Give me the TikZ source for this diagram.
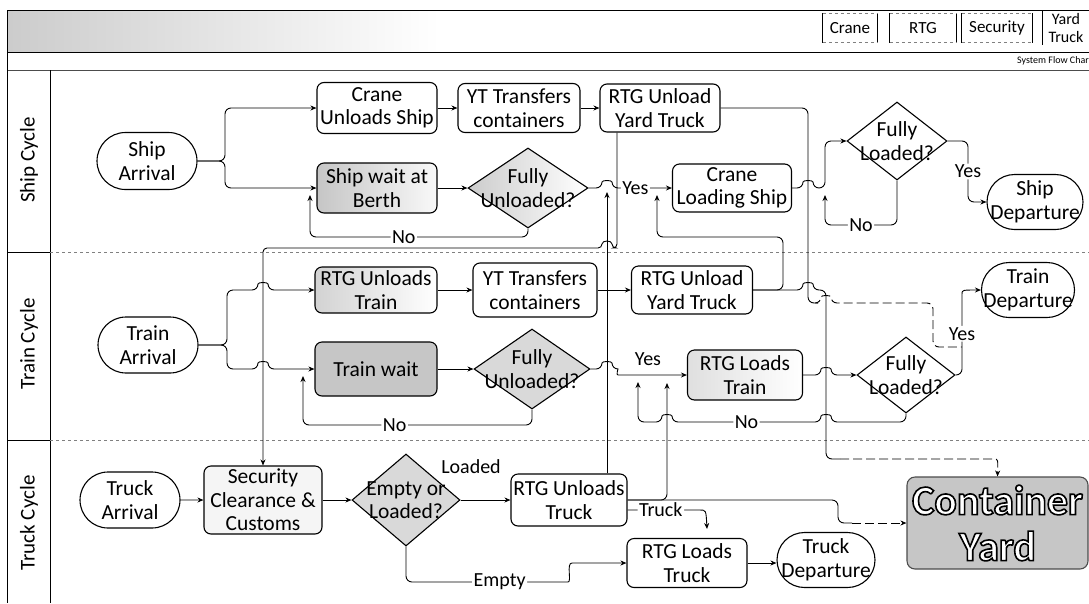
\documentclass[tikz,border=0pt]{standalone}
\usepackage{fontspec}
\setmainfont{Carlito}
\usetikzlibrary{arrows.meta,shapes.geometric,shapes.misc}
\newcommand\outlinedtext[1]{{\color{white}\special{pdf:literal direct 0 0 0 RG 2 Tr 1.6 w}#1\special{pdf:literal direct 0 Tr}}}
\begin{document}
\begin{tikzpicture}[x=1pt,y=-1pt,
  every node/.style={font=\fontsize{21.5}{23.5}\selectfont},
  box/.style={draw, line width=1.1pt, rounded corners=7pt, align=center, inner sep=1pt},
  term/.style={draw, line width=1.1pt, rounded rectangle, inner sep=0pt},
  dia/.style={draw, line width=1.1pt, diamond, inner sep=0pt},
  con/.style={line width=0.9pt, rounded corners=6pt},
  arr/.style={con, -{Stealth[length=6pt,width=5pt]}},
  lbl/.style={fill=white, inner sep=1.5pt, font=\fontsize{20}{22}\selectfont},
  freelbl/.style={inner sep=1pt, font=\fontsize{20}{22}\selectfont},
  lane/.style={rotate=90, font=\fontsize{21}{23}\selectfont},
  leg/.style={inner sep=2pt, font=\fontsize{17}{18}\selectfont, align=center},
  faint/.style={dash pattern=on 9pt off 4pt},
  frame/.style={line width=0.8pt},
]
\useasboundingbox (0,0) rectangle (1089,603);

% ---------- header and frame ----------
\fill[left color=gray!40, right color=white] (8,11) rectangle (440,51);
\draw[frame] (7,10) -- (1089,10);
\draw[line width=1pt] (7,52) -- (1089,52);
\draw[line width=0.8pt, black!70] (7,70) -- (1089,70);
\draw[frame] (7,10) -- (7,603);
\draw[frame] (50,70) -- (50,603);
\draw[frame] (7,252) -- (50,252);
\draw[frame] (7,440) -- (50,440);
\draw[gray, dashed, line width=0.6pt] (50,252) -- (1089,252);
\draw[gray, dashed, line width=0.6pt] (50,440) -- (1089,440);

\node[lane] (lship) at (29,160) {Ship Cycle};
\node[lane] (ltrain) at (29,344) {Train Cycle};
\node[lane] (ltruck) at (29,523) {Truck Cycle};

% legend
\node[leg, minimum width=54pt, minimum height=29pt] (lgc) at (850,28) {Crane};
\node[leg, minimum width=66pt, minimum height=29pt] (lgr) at (923,28) {RTG};
\node[leg, minimum width=70pt, minimum height=29pt] (lgs) at (997,28) {Security};
\node[leg, minimum width=46pt, minimum height=34pt, font=\fontsize{16}{18}\selectfont] (lgy) at (1066,28) {Yard\\Truck};
\foreach \n in {lgc,lgr,lgs}{
  \draw[line width=0.7pt] (\n.north west) -- (\n.south west) (\n.north east) -- (\n.south east);
  \draw[gray, dashed, line width=0.5pt] (\n.north west) -- (\n.north east) (\n.south west) -- (\n.south east);
}
\draw[line width=0.7pt] (lgy.north west) -- (lgy.south west);
\node[anchor=east, font=\fontsize{10}{11}\selectfont, inner sep=0pt] (sfc) at (1089,61) {System Flow Char};

% ---------- ship cycle ----------
\node[term, minimum width=100pt, minimum height=57pt, label={[align=center]center:Ship\\Arrival}] (sa) at (147,161) {};
\node[box, minimum width=120pt, minimum height=51pt] (cus) at (377,108) {Crane\\Unloads Ship};
\node[box, minimum width=122pt, minimum height=49pt] (yt1) at (519,108) {YT Transfers\\containers};
\node[box, minimum width=120pt, minimum height=48pt] (rtg1) at (660,108) {RTG Unload\\Yard Truck};
\node[box, left color=gray!45, right color=gray!5, minimum width=120pt, minimum height=50pt] (swb) at (377,188) {Ship wait at\\Berth};
\node[dia, left color=gray!40, right color=white, minimum width=120pt, minimum height=80pt,
      label={[align=center]center:Fully\\Unloaded?}] (fu1) at (528,188) {};
\node[box, minimum width=119pt, minimum height=48pt] (cls) at (732,188) {Crane\\Loading Ship};
\node[dia, minimum width=100pt, minimum height=78pt,
      label={[align=center]center:Fully\\Loaded?}] (fl1) at (897,141) {};
\node[term, minimum width=96pt, minimum height=55pt, label={[align=center]center:Ship\\Departure}] (sd) at (1035,202) {};

% ---------- train cycle ----------
\node[term, minimum width=100pt, minimum height=56pt, label={[align=center]center:Train\\Arrival}] (ta) at (148,345) {};
\node[box, left color=gray!35, right color=white, minimum width=122pt, minimum height=46pt] (rut) at (376,290) {RTG Unloads\\Train};
\node[box, minimum width=124pt, minimum height=54pt] (yt2) at (535,290) {YT Transfers\\containers};
\node[box, minimum width=121pt, minimum height=48pt] (rtg2) at (692,290) {RTG Unload\\Yard Truck};
\node[box, fill=gray!45, minimum width=122pt, minimum height=54pt] (tw) at (376,369) {Train wait};
\node[dia, fill=gray!30, minimum width=116pt, minimum height=80pt,
      label={[align=center]center:Fully\\Unloaded?}] (fu2) at (532,369) {};
\node[box, left color=gray!25, right color=white, minimum width=115pt, minimum height=50pt] (rlt) at (745,375) {RTG Loads\\Train};
\node[dia, minimum width=98pt, minimum height=76pt,
      label={[align=center]center:Fully\\Loaded?}] (fl2) at (906,375) {};
\node[term, minimum width=93pt, minimum height=55pt, label={[align=center]center:Train\\Departure}] (td) at (1028,290) {};

% ---------- truck cycle ----------
\node[term, minimum width=100pt, minimum height=56pt, label={[align=center]center:Truck\\Arrival}] (tra) at (130,500) {};
\node[box, fill=gray!8, minimum width=118pt, minimum height=68pt] (scc) at (263,500) {Security\\Clearance \&\\Customs};
\node[dia, fill=gray!30, minimum width=108pt, minimum height=92pt,
      label={[align=center]center:Empty or\\Loaded?}] (eol) at (406,500) {};
\node[box, minimum width=116pt, minimum height=52pt] (rut2) at (569,500) {RTG Unloads\\Truck};
\node[box, minimum width=120pt, minimum height=49pt] (rlt2) at (687,563) {RTG Loads\\Truck};
\node[term, minimum width=98pt, minimum height=55pt, label={[align=center]center:Truck\\Departure}] (tdp) at (826,560) {};
\node[box, draw=gray!60!black, fill=gray!45, minimum width=181pt, minimum height=92pt, rounded corners=8pt,
      inner sep=0pt, font=\fontsize{42}{46}\selectfont\bfseries] (cy) at (997.5,523)
      {\outlinedtext{Container}\\\outlinedtext{Yard}};

% ---------- ship connectors ----------
\coordinate (sbr) at (225,161);
\draw[arr] (sa.east) -- (sbr) |- (cus.west);
\draw[arr] (sa.east) -- (sbr) |- (swb.west);
\draw[arr] (cus) -- (yt1);
\draw[arr] (yt1) -- (rtg1);
\draw[arr] (swb) -- (fu1);
\coordinate (fu1no) at (310,195);
\draw[arr] (fu1.south) -- (528,237) -- node[lbl,pos=0.57]{No} (310,237) -- (fu1no);
\draw[arr] (fu1.east) -- (602,188) .. controls +(0,-8) and +(0,-8) .. (612,188) -- node[lbl,pos=0.39]{Yes} (cls.west);
\coordinate (t2c) at (607,192);
\draw[arr] (607,0 |- rut2.north) -- (t2c);
\draw[arr, rounded corners=4pt] (617,0 |- rtg1.south) -- (617,248) -- (612,248) .. controls +(0,-8) and +(0,-8) .. (602,248) -- (263,248) -- (scc.north);
\coordinate (s2a) at (818,303);
\draw[con] (rtg1.east) -- (808,108) -- (808,303) -- (s2a);
\coordinate (s2t) at (962,347);
\draw[con, faint] (s2a) -- (821,303) .. controls +(0,-8) and +(0,-8) .. (831,303) -- (933,303) -- (933,347) -- (s2t);
\draw[arr] (cls.east) -- (803,188) .. controls +(0,-8) and +(0,-8) .. (813,188) -- (825,188) -- (825,141) -- (fl1.west);
\coordinate (fl1no) at (825,195);
\draw[arr] (fl1.south) -- (897,225) -- node[lbl]{No} (825,225) -- (fl1no);
\draw[arr] (fl1.east) -- (968,141) -- node[lbl,pos=0.5]{Yes} (968,202) -- (sd.west);

% ---------- train connectors ----------
\coordinate (tbr) at (227,345);
\draw[arr] (ta.east) -- (tbr) -- (227,290) -- (258,290) .. controls +(0,-8) and +(0,-8) .. (268,290) -- (rut.west);
\draw[arr] (ta.east) -- (tbr) -- (227,369) -- (258,369) .. controls +(0,-8) and +(0,-8) .. (268,369) -- (tw.west);
\draw[arr] (rut) -- (yt2);
\draw[arr] (yt2) -- (rtg2);
\draw[arr] (tw) -- (fu2);
\coordinate (fu2no) at (303,376);
\draw[arr] (fu2.south) -- (532,425) -- node[lbl,pos=0.6]{No} (303,425) -- (fu2no);
\draw[arr] (fu2.east) -- (602,369) .. controls +(0,-8) and +(0,-8) .. (612,369) .. controls (618,369) and (616,375) .. (624,375) -- (rlt.west);
\node[freelbl] (fu2yes) at (648,359) {Yes};
\coordinate (r2c) at (657,195);
\draw[arr] (rtg2.east) -- (783,290) -- (783,237) -- (657,237) -- (r2c);
\coordinate (r2y) at (840,459);
\draw[con] (rtg2.east) -- (803,290) .. controls +(0,-8) and +(0,-8) .. (813,290) -- (826,290) -- (826,459) -- (r2y);
\draw[arr, faint] (r2y) -- (988,459) .. controls (998,459) .. (cy.north);
\draw[arr] (rlt.east) -- (821,375) .. controls +(0,-8) and +(0,-8) .. (831,375) -- (fl2.west);
\coordinate (fl2no) at (638,382);
\draw[arr] (fl2.south) -- (906,422) -- (831,422) .. controls +(0,-8) and +(0,-8) .. (821,422) -- node[lbl]{No} (672,422) .. controls +(0,-8) and +(0,-8) .. (662,422) -- (638,422) -- (fl2no);
\draw[arr] (fl2.east) -- (962,375) -- node[lbl,pos=0.55]{Yes} (962,300) .. controls (962,290) .. (td.west);

% ---------- truck connectors ----------
\draw[arr] (tra) -- (scc);
\draw[arr] (scc) -- (eol);
\draw[arr] (eol) -- (rut2);
\node[freelbl] (lld) at (471,467) {Loaded};
\draw[arr] (eol.south) -- (406,582) -- node[lbl,pos=0.6]{Empty} (562,582) .. controls (572,582) and (566,563) .. (578,563) -- (rlt2.west);
\coordinate (tkc) at (707,529);
\draw[arr] (rut2.east |- 0,510) -- node[lbl,pos=0.5]{Truck} (694,510) .. controls (706,510) .. (tkc);
\coordinate (t2r) at (667,383);
\draw[arr] (rut2.east) -- (667,500) -- (t2r);
\coordinate (t2y) at (852,523);
\draw[con] (rut2.east) -- (838,500) -- (838,523) -- (t2y);
\draw[arr, faint] (t2y) -- (cy.west);
\draw[arr] (rlt2.east) -- (rlt2.east -| tdp.west);
\end{tikzpicture}
\end{document}
